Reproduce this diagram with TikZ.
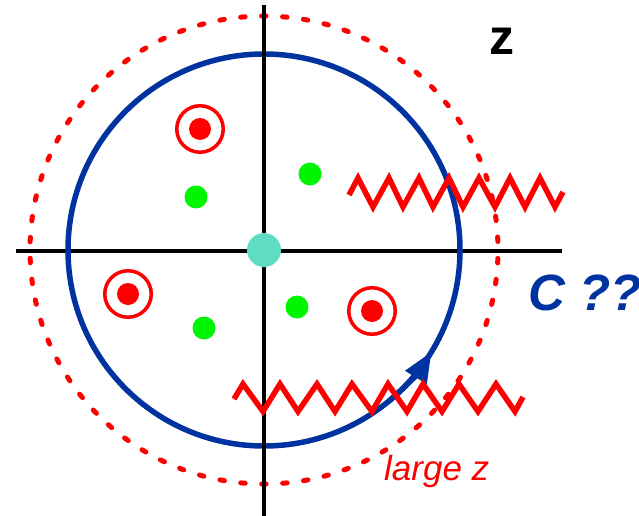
\documentclass[tikz,border=0pt]{standalone}
\usepackage{fontspec}
\setmainfont{Liberation Sans}
\usetikzlibrary{arrows.meta}
\definecolor{cblue}{RGB}{0,51,160}
\definecolor{cred}{RGB}{255,0,0}
\definecolor{cgreen}{RGB}{0,245,0}
\definecolor{cteal}{RGB}{95,221,196}
\tikzset{
  axisline/.style={line width=4pt, black},
  contour/.style={line width=5.5pt, cblue},
  bigdash/.style={line width=5pt, cred, line cap=round, dash pattern=on 4.5pt off 16.5pt, dash phase=12.5pt},
  cut/.style={line width=5.5pt, cred, line join=miter},
  gdot/.style={circle, fill=cgreen, draw=none, inner sep=0pt, minimum size=23pt},
  rdot/.style={circle, fill=cred, draw=none, inner sep=0pt, minimum size=22pt},
  ring/.style={circle, draw=cred, line width=3.5pt, fill=none, inner sep=0pt, minimum size=46.5pt},
  tdot/.style={circle, fill=cteal, draw=none, inner sep=0pt, minimum size=34pt},
}
\begin{document}
\begin{tikzpicture}[x=1pt,y=1pt]
\useasboundingbox (0,0) rectangle (639,-516);
\coordinate (O) at (264,-250);
% axes
\coordinate (xl) at (16,-250.5);
\coordinate (xr) at (562,-250.5);
\coordinate (yt) at (264,-5);
\coordinate (yb) at (264,-516);
\draw[axisline] (xl) -- (xr);
% circles
\draw[bigdash] (O) circle[radius=234pt];
\draw[contour] (O) circle[radius=196pt];
\draw[axisline] (yt) -- (yb);
% arrow on contour
\draw[contour, -{Triangle[length=30pt,width=24pt]}] ([shift={(-50:196pt)}]O) arc[start angle=-50, end angle=-31.3, radius=196pt];
% branch cuts
\draw[cut] (349,-195) -- (358,-178) -- (373,-207) -- (389,-178) -- (403,-207) -- (419,-178) -- (433,-207) -- (449,-178) -- (463,-207) -- (479,-178) -- (495,-207) -- (510,-178) -- (525,-207) -- (540,-178) -- (555,-207) -- (563,-192);
\draw[cut] (234,-399) -- (243,-384) -- (263,-411.5) -- (280,-384) -- (298,-411.5) -- (317,-384) -- (335,-411.5) -- (352,-384) -- (372,-411.5) -- (388,-384) -- (407,-411.5) -- (423,-384) -- (442,-411.5) -- (459,-384) -- (478,-411.5) -- (496,-384) -- (515,-411.5) -- (523,-397);
% points
\node[tdot] (t0) at (O) {};
\node[gdot] (g1) at (196,-197) {};
\node[gdot] (g2) at (310,-174) {};
\node[gdot] (g3) at (204,-328) {};
\node[gdot] (g4) at (297,-307) {};
\node[ring] (r1) at (200,-129) {};
\node[rdot] (p1) at (r1) {};
\node[ring] (r2) at (128,-294) {};
\node[rdot] (p2) at (r2) {};
\node[ring] (r3) at (372,-311) {};
\node[rdot] (p3) at (r3) {};
% labels
\node[anchor=base west, inner sep=0pt, font=\fontsize{50}{60}\selectfont\bfseries] (zl) at (489,-55) {z};
\node[anchor=base west, inner sep=0pt, text=cblue, font=\fontsize{51}{61}\selectfont\bfseries\itshape] (cl) at (528,-310) {C ??};
\node[anchor=base west, inner sep=0pt, text=cred, font=\fontsize{35}{42}\selectfont\itshape] (ll) at (384,-480) {large z};
\end{tikzpicture}
\end{document}
